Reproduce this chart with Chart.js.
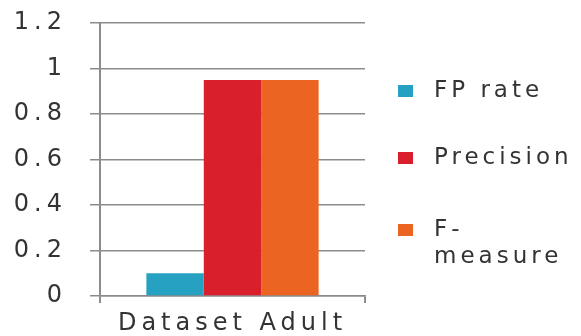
<!DOCTYPE html>
<html>
<head>
<meta charset="utf-8">
<script src="https://cdn.jsdelivr.net/npm/chart.js@4.4.1/dist/chart.umd.min.js"></script>
<style>
    html, body { margin: 0; padding: 0; background: #fff; }
</style>
</head>
<body>
<canvas id="barrasAdult" width="581" height="336"></canvas>
<script>
//Datos del grafico
var categorias = ['Dataset Adult'];
var nombresSeries = ['FP rate', 'Precision', 'F-measure'];
var fpRate = [0.1];
var precision = [0.95];
var fMeasure = [0.95];
var ticksY = [0, 0.2, 0.4, 0.6, 0.8, 1, 1.2];
var colores = ['#27a1c2', '#d91f2b', '#ec6421'];

var fuente = 'DejaVu Sans';
var colorTexto = '#333333';
var colorEjes = '#8c8c8c';
var espacio = '5px';

//Espaciado de letras (el canvas se resetea al redimensionar)
var espaciado = {
    id: 'espaciado',
    beforeUpdate: function(chart) { chart.ctx.letterSpacing = espacio; },
    beforeDraw: function(chart) { chart.ctx.letterSpacing = espacio; }
};

//Leyenda a la derecha con salto de linea
var leyenda = {
    id: 'leyenda',
    afterDraw: function(chart) {
        var ctx = chart.ctx;
        var filas = [91, 158, 230];
        var xCaja = 398, xTexto = 434, maxAncho = 581 - xTexto;
        ctx.save();
        ctx.letterSpacing = '4px';
        ctx.font = '23px "' + fuente + '"';
        ctx.textBaseline = 'middle';
        ctx.textAlign = 'left';
        chart.data.datasets.forEach(function(ds, i) {
            var y = filas[i];
            ctx.fillStyle = ds.backgroundColor;
            ctx.fillRect(xCaja, y - 6, 15, 12);
            ctx.fillStyle = colorTexto;
            var texto = ds.label;
            var lineas = [texto];
            if (ctx.measureText(texto).width > maxAncho && texto.indexOf('-') > 0) {
                var p = texto.indexOf('-') + 1;
                lineas = [texto.slice(0, p), texto.slice(p)];
            }
            lineas.forEach(function(l, j) {
                ctx.fillText(l, xTexto, y + j * 27);
            });
        });
        ctx.restore();
    }
};

var getBarrasAdult = document.getElementById('barrasAdult');
var barrasAdult = new Chart(getBarrasAdult, {
    type: 'bar',
    plugins: [espaciado, leyenda],
    data: {
        labels: categorias,
        datasets: [
            { label: nombresSeries[0], data: fpRate, backgroundColor: colores[0] },
            { label: nombresSeries[1], data: precision, backgroundColor: colores[1] },
            { label: nombresSeries[2], data: fMeasure, backgroundColor: colores[2] }
        ]
    },
    options: {
        responsive: false,
        animation: false,
        layout: {
            padding: { top: 23, right: 216, left: 0, bottom: 0 }
        },
        datasets: {
            bar: { categoryPercentage: 0.65, barPercentage: 1, borderWidth: 0 }
        },
        scales: {
            x: {
                afterFit: function(s) { s.height = 40; s.paddingLeft = 0; s.paddingRight = 0; },
                grid: { offset: true, drawOnChartArea: false, color: colorEjes, lineWidth: 2, tickLength: 7 },
                border: { color: colorEjes, width: 1.5 },
                ticks: { color: colorTexto, font: { family: fuente, size: 24 }, padding: 6 }
            },
            y: {
                min: 0,
                max: 1.2,
                afterBuildTicks: function(s) {
                    s.ticks = ticksY.map(function(v) { return { value: v }; });
                },
                afterFit: function(s) { s.width = 100; s.paddingTop = 0; s.paddingBottom = 0; },
                grid: { color: colorEjes, lineWidth: 1.5, tickLength: 10 },
                border: { color: colorEjes, width: 2 },
                ticks: {
                    color: colorTexto,
                    font: { family: fuente, size: 24 },
                    padding: 23,
                    callback: function(v) { return String(v); }
                }
            }
        },
        plugins: {
            legend: { display: false },
            tooltip: { enabled: false }
        }
    }
});
</script>
</body>
</html>
